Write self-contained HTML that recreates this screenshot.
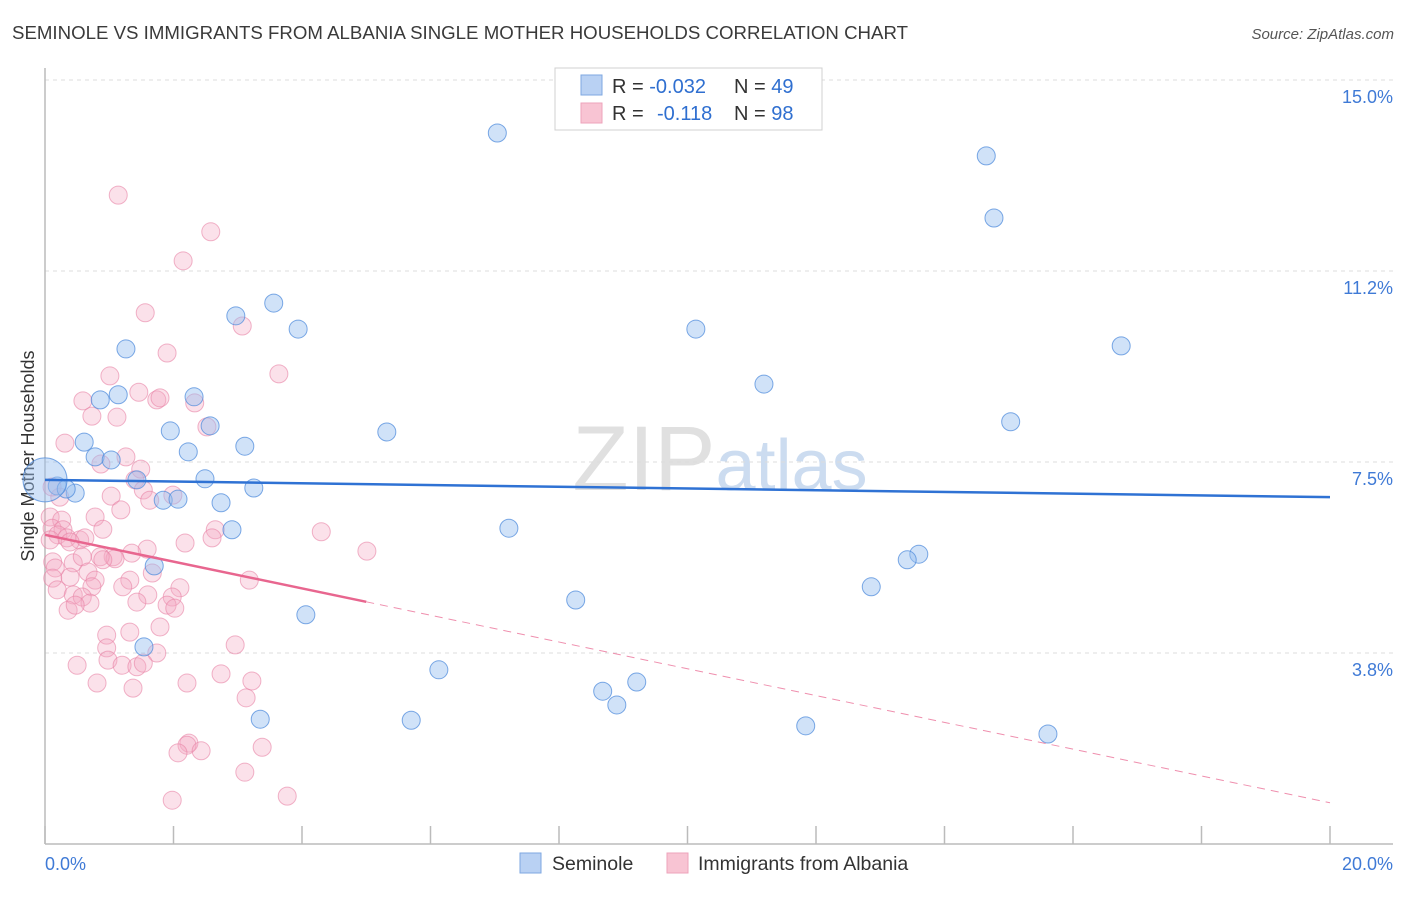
<!DOCTYPE html>
<html><head><meta charset="utf-8"><style>
body{margin:0;background:#fff;font-family:"Liberation Sans",sans-serif;}
svg text{font-family:"Liberation Sans",sans-serif;}
</style></head><body>
<svg id="chart" width="1406" height="892" xmlns="http://www.w3.org/2000/svg">
<text x="12" y="39" font-size="18.6" fill="#3a3a3a" textLength="896" lengthAdjust="spacingAndGlyphs">SEMINOLE VS IMMIGRANTS FROM ALBANIA SINGLE MOTHER HOUSEHOLDS CORRELATION CHART</text>
<text x="1394" y="39" font-size="15" fill="#555" font-style="italic" text-anchor="end">Source: ZipAtlas.com</text>
<text x="720" y="490" font-size="92" fill="#e0e0e0" text-anchor="middle" font-family="Liberation Serif"><tspan>ZIP</tspan><tspan font-family="Liberation Sans" fill="#ccdcf0" font-size="72">atlas</tspan></text>
<text transform="translate(34,456) rotate(-90)" font-size="18" fill="#333" text-anchor="middle">Single Mother Households</text>
<g id="grid"></g>
<g id="axes"></g>
<g id="pts"></g>
<g id="trends"></g>
<g>
<rect x="555" y="68" width="267" height="62" fill="#fff" stroke="#d0d0d0"/>
<rect x="581" y="75" width="21" height="20" fill="#b9d1f3" stroke="#7ea7e0"/>
<rect x="581" y="103" width="21" height="20" fill="#f8c4d3" stroke="#eea3bb"/>
<text x="612" y="93" font-size="20" fill="#333">R = <tspan fill="#2f6fd0">-0.032</tspan></text>
<text x="734" y="93" font-size="20" fill="#333">N = <tspan fill="#2f6fd0">49</tspan></text>
<text x="612" y="120" font-size="20" fill="#333">R =  <tspan fill="#2f6fd0" x="657">-0.118</tspan></text>
<text x="734" y="120" font-size="20" fill="#333">N = <tspan fill="#2f6fd0">98</tspan></text>
</g>
<g>
<rect x="520" y="853" width="21" height="20" fill="#b9d1f3" stroke="#7ea7e0"/>
<text x="552" y="870" font-size="19.5" fill="#333">Seminole</text>
<rect x="667" y="853" width="21" height="20" fill="#f8c4d3" stroke="#eea3bb"/>
<text x="698" y="870" font-size="19.5" fill="#333">Immigrants from Albania</text>
</g>
</svg>
<script>
const yTicks=[3.75,7.5,11.25,15];
const yTickLabels=["3.8%","7.5%","11.2%","15.0%"];
const xTickLabels=["0.0%","20.0%"];
const blueX=[7.04,14.65,14.77,3.56,2.97,3.94,10.13,1.26,16.75,11.19,1.14,0.86,2.32,15.03,1.95,5.32,2.57,0.61,3.11,2.23,0.78,1.03,2.49,1.43,3.25,0.19,0.47,1.84,2.07,2.74,2.91,7.22,13.60,13.42,1.70,8.26,12.86,4.06,1.54,6.13,8.68,9.21,8.90,3.35,5.70,11.84,15.61,0.33,0.0];
const blueY=[13.96,13.51,12.29,10.62,10.37,10.11,10.11,9.72,9.78,9.03,8.82,8.72,8.78,8.29,8.11,8.09,8.21,7.89,7.81,7.70,7.60,7.54,7.17,7.15,6.99,7.03,6.89,6.75,6.77,6.70,6.17,6.20,5.69,5.58,5.46,4.79,5.05,4.50,3.87,3.42,3.00,3.18,2.73,2.45,2.43,2.32,2.16,6.97,7.15];
const pinkX=[1.14,2.58,2.15,1.56,3.07,1.90,3.64,1.01,1.46,0.59,1.74,1.79,2.33,1.12,0.73,2.52,0.31,0.87,1.26,1.49,1.40,1.53,1.63,1.99,1.03,0.23,0.11,1.18,0.08,0.26,0.78,0.90,0.11,0.28,0.20,0.34,0.54,0.62,0.39,0.08,2.65,2.60,2.18,4.30,5.01,1.59,1.35,1.06,1.09,0.86,0.90,0.12,0.16,0.44,0.58,0.67,1.67,0.39,0.12,0.78,0.73,1.32,1.21,3.18,0.19,2.10,0.44,0.58,1.60,1.98,1.43,1.90,2.02,0.70,0.36,0.47,0.96,1.32,1.79,0.96,1.74,0.98,1.20,1.43,1.53,0.50,2.96,2.74,3.22,3.13,0.81,1.37,2.21,2.24,2.21,2.07,2.43,3.38,3.11,1.98,3.77];
const pinkY=[12.74,12.02,11.45,10.43,10.17,9.64,9.23,9.19,8.87,8.70,8.72,8.76,8.66,8.38,8.40,8.19,7.87,7.46,7.60,7.36,7.15,6.95,6.75,6.85,6.83,6.81,7.01,6.56,6.42,6.36,6.42,6.18,6.20,6.17,6.07,6.01,5.97,6.01,5.93,5.97,6.17,6.01,5.91,6.13,5.75,5.79,5.71,5.64,5.60,5.64,5.58,5.54,5.42,5.52,5.64,5.34,5.32,5.24,5.22,5.18,5.05,5.18,5.05,5.18,4.99,5.03,4.89,4.85,4.89,4.85,4.75,4.69,4.63,4.73,4.59,4.69,4.10,4.16,4.26,3.85,3.75,3.61,3.51,3.48,3.55,3.51,3.91,3.34,3.20,2.87,3.16,3.06,3.16,1.98,1.94,1.79,1.83,1.90,1.41,0.86,0.94];
const blueTrend=[7.15,6.81];
const pinkTrend=[6.07,0.81];
const pinkSolidEnd=5.0;

const NS="http://www.w3.org/2000/svg";
const X0=45,X1=1330,Y0=844,YTOP=80;
const sx=v=>X0+(X1-X0)*v/20;
const sy=v=>Y0-(Y0-YTOP)*v/15;
function mk(tag,attrs,parent){const e=document.createElementNS(NS,tag);for(const k in attrs)e.setAttribute(k,attrs[k]);parent.appendChild(e);return e;}
const grid=document.getElementById('grid'),axes=document.getElementById('axes'),pts=document.getElementById('pts'),tr=document.getElementById('trends');
yTicks.forEach((t,i)=>{
  const l=mk('line',{x1:X0,x2:1393,y1:sy(t),y2:sy(t),stroke:'#dcdcdc','stroke-dasharray':'4,4'},grid);
  
  
  const tx=mk('text',{x:1393,y:sy(t)+23,'font-size':18,fill:'#3f7ad6','text-anchor':'end'},grid);
  tx.textContent=yTickLabels[i];
  
  
});
const ya=mk('line',{x1:X0,x2:X0,y1:68,y2:Y0,stroke:'#bbb','stroke-width':1.5},axes);


const xa=mk('line',{x1:X0,x2:1393,y1:Y0,y2:Y0,stroke:'#bbb','stroke-width':1.5},axes);


for(let i=0;i<=10;i++){
  const tk=mk('line',{x1:sx(i*2),x2:sx(i*2),y1:826,y2:Y0,stroke:'#bbb','stroke-width':1.5},axes);
  
  
}
const xl0=mk('text',{x:45,y:870,'font-size':18,fill:'#3f7ad6'},axes);xl0.textContent=xTickLabels[0];


const xl1=mk('text',{x:1393,y:870,'font-size':18,fill:'#3f7ad6','text-anchor':'end'},axes);xl1.textContent=xTickLabels[1];


pinkX.forEach((x,i)=>{
  const c=mk('circle',{cx:sx(x),cy:sy(pinkY[i]),r:9,fill:'rgba(244,170,195,0.35)',stroke:'rgba(232,130,165,0.6)','stroke-width':1},pts);
  
  
});
blueX.forEach((x,i)=>{
  const big=i===blueX.length-1;
  const c=mk('circle',{cx:sx(x),cy:sy(blueY[i]),r:big?22:9,fill:'rgba(150,190,240,0.45)',stroke:'rgba(80,140,220,0.75)','stroke-width':1},pts);
  
  
});
const bt=mk('line',{x1:sx(0),y1:sy(blueTrend[0]),x2:sx(20),y2:sy(blueTrend[1]),stroke:'#2f72d4','stroke-width':2.5},tr);


const pv=x=>pinkTrend[0]+(pinkTrend[1]-pinkTrend[0])*x/20;
const ps=mk('line',{x1:sx(0),y1:sy(pv(0)),x2:sx(pinkSolidEnd),y2:sy(pv(pinkSolidEnd)),stroke:'#e8668f','stroke-width':2.5},tr);


const pd=mk('line',{x1:sx(pinkSolidEnd),y1:sy(pv(pinkSolidEnd)),x2:sx(20),y2:sy(pv(20)),stroke:'#ef8fae','stroke-width':1,'stroke-dasharray':'8,6'},tr);


</script>
</body></html>
